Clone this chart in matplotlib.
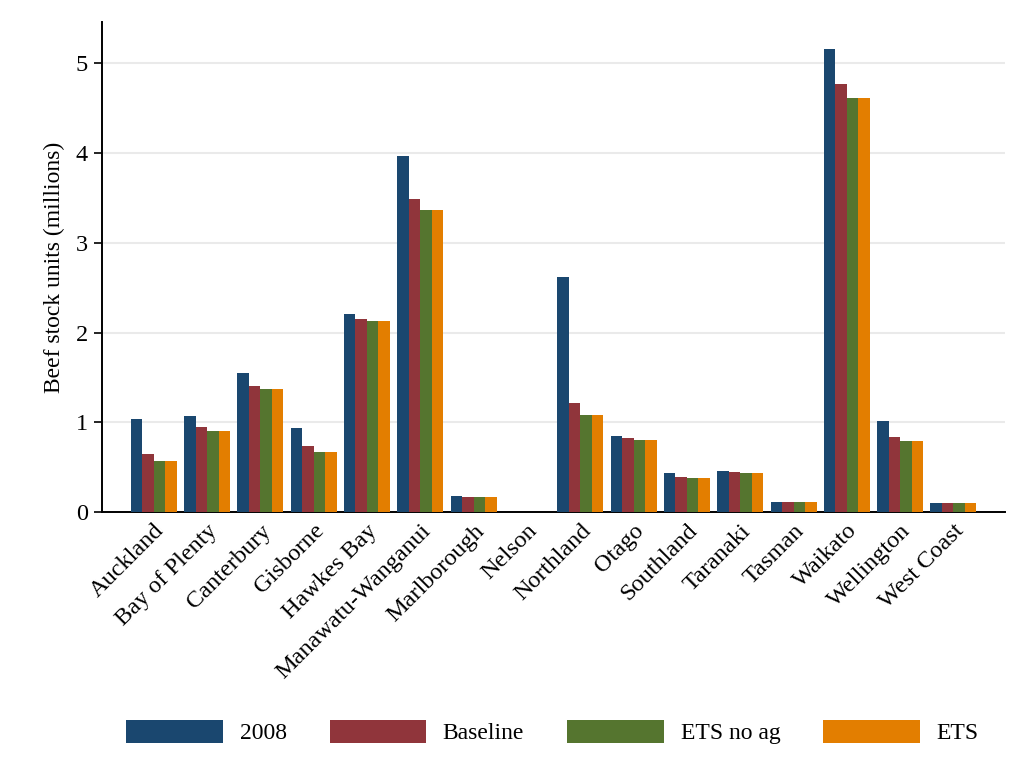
import numpy as np
import matplotlib.pyplot as plt

plt.rcParams['font.family'] = ['Liberation Serif', 'DejaVu Serif']

# regions and beef stock units (millions) per scenario
regions = ['Auckland', 'Bay of Plenty', 'Canterbury', 'Gisborne', 'Hawkes Bay',
           'Manawatu-Wanganui', 'Marlborough', 'Nelson', 'Northland', 'Otago',
           'Southland', 'Taranaki', 'Tasman', 'Waikato', 'Wellington', 'West Coast']
y2008 = [1.04, 1.07, 1.55, 0.94, 2.21, 3.97, 0.175, 0.0, 2.62, 0.85,
         0.43, 0.46, 0.115, 5.16, 1.01, 0.097]
baseline = [0.65, 0.95, 1.40, 0.73, 2.15, 3.49, 0.167, 0.0, 1.21, 0.82,
            0.39, 0.45, 0.115, 4.77, 0.84, 0.097]
ets_no_ag = [0.57, 0.90, 1.37, 0.67, 2.13, 3.36, 0.163, 0.0, 1.08, 0.805,
             0.38, 0.44, 0.108, 4.61, 0.79, 0.097]
ets = [0.57, 0.90, 1.37, 0.67, 2.13, 3.36, 0.163, 0.0, 1.08, 0.805,
       0.38, 0.44, 0.108, 4.61, 0.79, 0.097]

series = [('2008', y2008, '#1a476f'),
          ('Baseline', baseline, '#90353b'),
          ('ETS no ag', ets_no_ag, '#55752f'),
          ('ETS', ets, '#e37e00')]

fig = plt.figure(figsize=(10.24, 7.72), dpi=100)
ax = fig.add_axes([0.0996, 0.3368, 0.8815, 0.6347])

x = np.arange(len(regions))
w = 0.2156
for k, (name, vals, col) in enumerate(series):
    ax.bar(x + (k - 1.5) * w, vals, width=w, color=col, label=name,
           edgecolor='none', zorder=3)

ax.set_xlim(-0.97, 15.96)
ax.set_ylim(0, 5.46)
ax.set_yticks(range(6))
ax.yaxis.grid(True, color='#eaeaea', linewidth=1.5, zorder=0)
ax.set_axisbelow(True)
for s in ['top', 'right']:
    ax.spines[s].set_visible(False)
for s in ['left', 'bottom']:
    ax.spines[s].set_linewidth(1.4)

ax.set_xticks(x)
ax.set_xticklabels(regions, rotation=45, ha='right', rotation_mode='anchor',
                   fontsize=17.5)
ax.tick_params(axis='x', length=0, pad=6)
ax.tick_params(axis='y', labelsize=17.5, length=6, width=1.2, pad=4)
ax.set_ylabel('Beef stock units (millions)', fontsize=17, labelpad=8)

fig.legend(loc='center', bbox_to_anchor=(0.5396, 0.052), ncol=4, frameon=False,
           fontsize=17, handlelength=4.07, handleheight=1.14, handletextpad=0.72,
           columnspacing=1.83)

plt.savefig('out.png', dpi=100)
